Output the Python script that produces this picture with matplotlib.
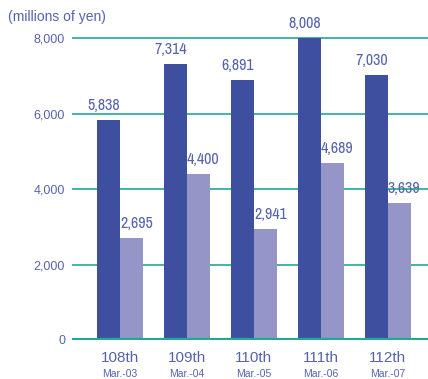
import matplotlib
matplotlib.use("Agg")
import matplotlib.pyplot as plt
from matplotlib import font_manager as fm
import numpy as np

periods = ["108th", "109th", "110th", "111th", "112th"]
dates = ["Mar.-03", "Mar.-04", "Mar.-05", "Mar.-06", "Mar.-07"]
series_a = [5838, 7314, 6891, 8008, 7030]
series_b = [2695, 4400, 2941, 4689, 3639]
yticks = [0, 2000, 4000, 6000, 8000]

DARK = "#3F4FA0"
LIGHT = "#9595C8"
TEAL = "#20A898"
TEXT = "#5564AA"

# the reference uses a condensed face; take one if the machine has it
names = sorted({f.name for f in fm.fontManager.ttflist})
narrow = [n for n in names if "Narrow" in n or "Condensed" in n]
FONT = ["Liberation Sans", "DejaVu Sans"]
VAL_FONT = (narrow[:1] + FONT) if narrow else FONT
VAL_SIZE = 11.5 if narrow else 9

plt.rcParams["font.family"] = FONT

fig = plt.figure(figsize=(4.28, 3.79), dpi=100)
ax = fig.add_axes([72 / 428, 39 / 379, 356 / 428, 310 / 379])

x = np.arange(len(periods))
w = 0.343
bars_a = ax.bar(x - w / 2, series_a, w, color=DARK, zorder=3)
bars_b = ax.bar(x + w / 2, series_b, w, color=LIGHT, zorder=3)

for bars, dx in ((bars_a, -3.5), (bars_b, 3.5)):
    for b in bars:
        h = b.get_height()
        ax.annotate(f"{h:,.0f}", (b.get_x() + b.get_width() / 2, h),
                    xytext=(dx, 5), textcoords="offset points",
                    ha="center", va="bottom", fontsize=VAL_SIZE, color=TEXT,
                    family=VAL_FONT, zorder=6)

ax.set_xlim(-0.716, 4.6)
ax.set_ylim(0, 8212)

for t in yticks[1:]:
    ax.axhline(t, color=TEAL, lw=1.2, zorder=1)
ax.axhline(0, color=TEAL, lw=3, zorder=4)

ax.set_yticks(yticks)
ax.set_yticklabels([f"{t:,}" for t in yticks], fontsize=9, color=TEXT)
ax.tick_params(axis="y", length=0, pad=5)
ax.set_xticks([])

for xi, p, d in zip(x, periods, dates):
    ax.annotate(p, (xi, 0), xytext=(0, -8), textcoords="offset points",
                ha="center", va="top", fontsize=11, color=TEXT)
    ax.annotate(d, (xi, 0), xytext=(0, -21), textcoords="offset points",
                ha="center", va="top", fontsize=7.5, color=TEXT)

for s in ax.spines.values():
    s.set_visible(False)

fig.text(8 / 428, 1 - 17 / 379, "(millions of yen)", fontsize=10,
         color=TEXT, va="center", ha="left")

fig.savefig("out.png", dpi=100)
